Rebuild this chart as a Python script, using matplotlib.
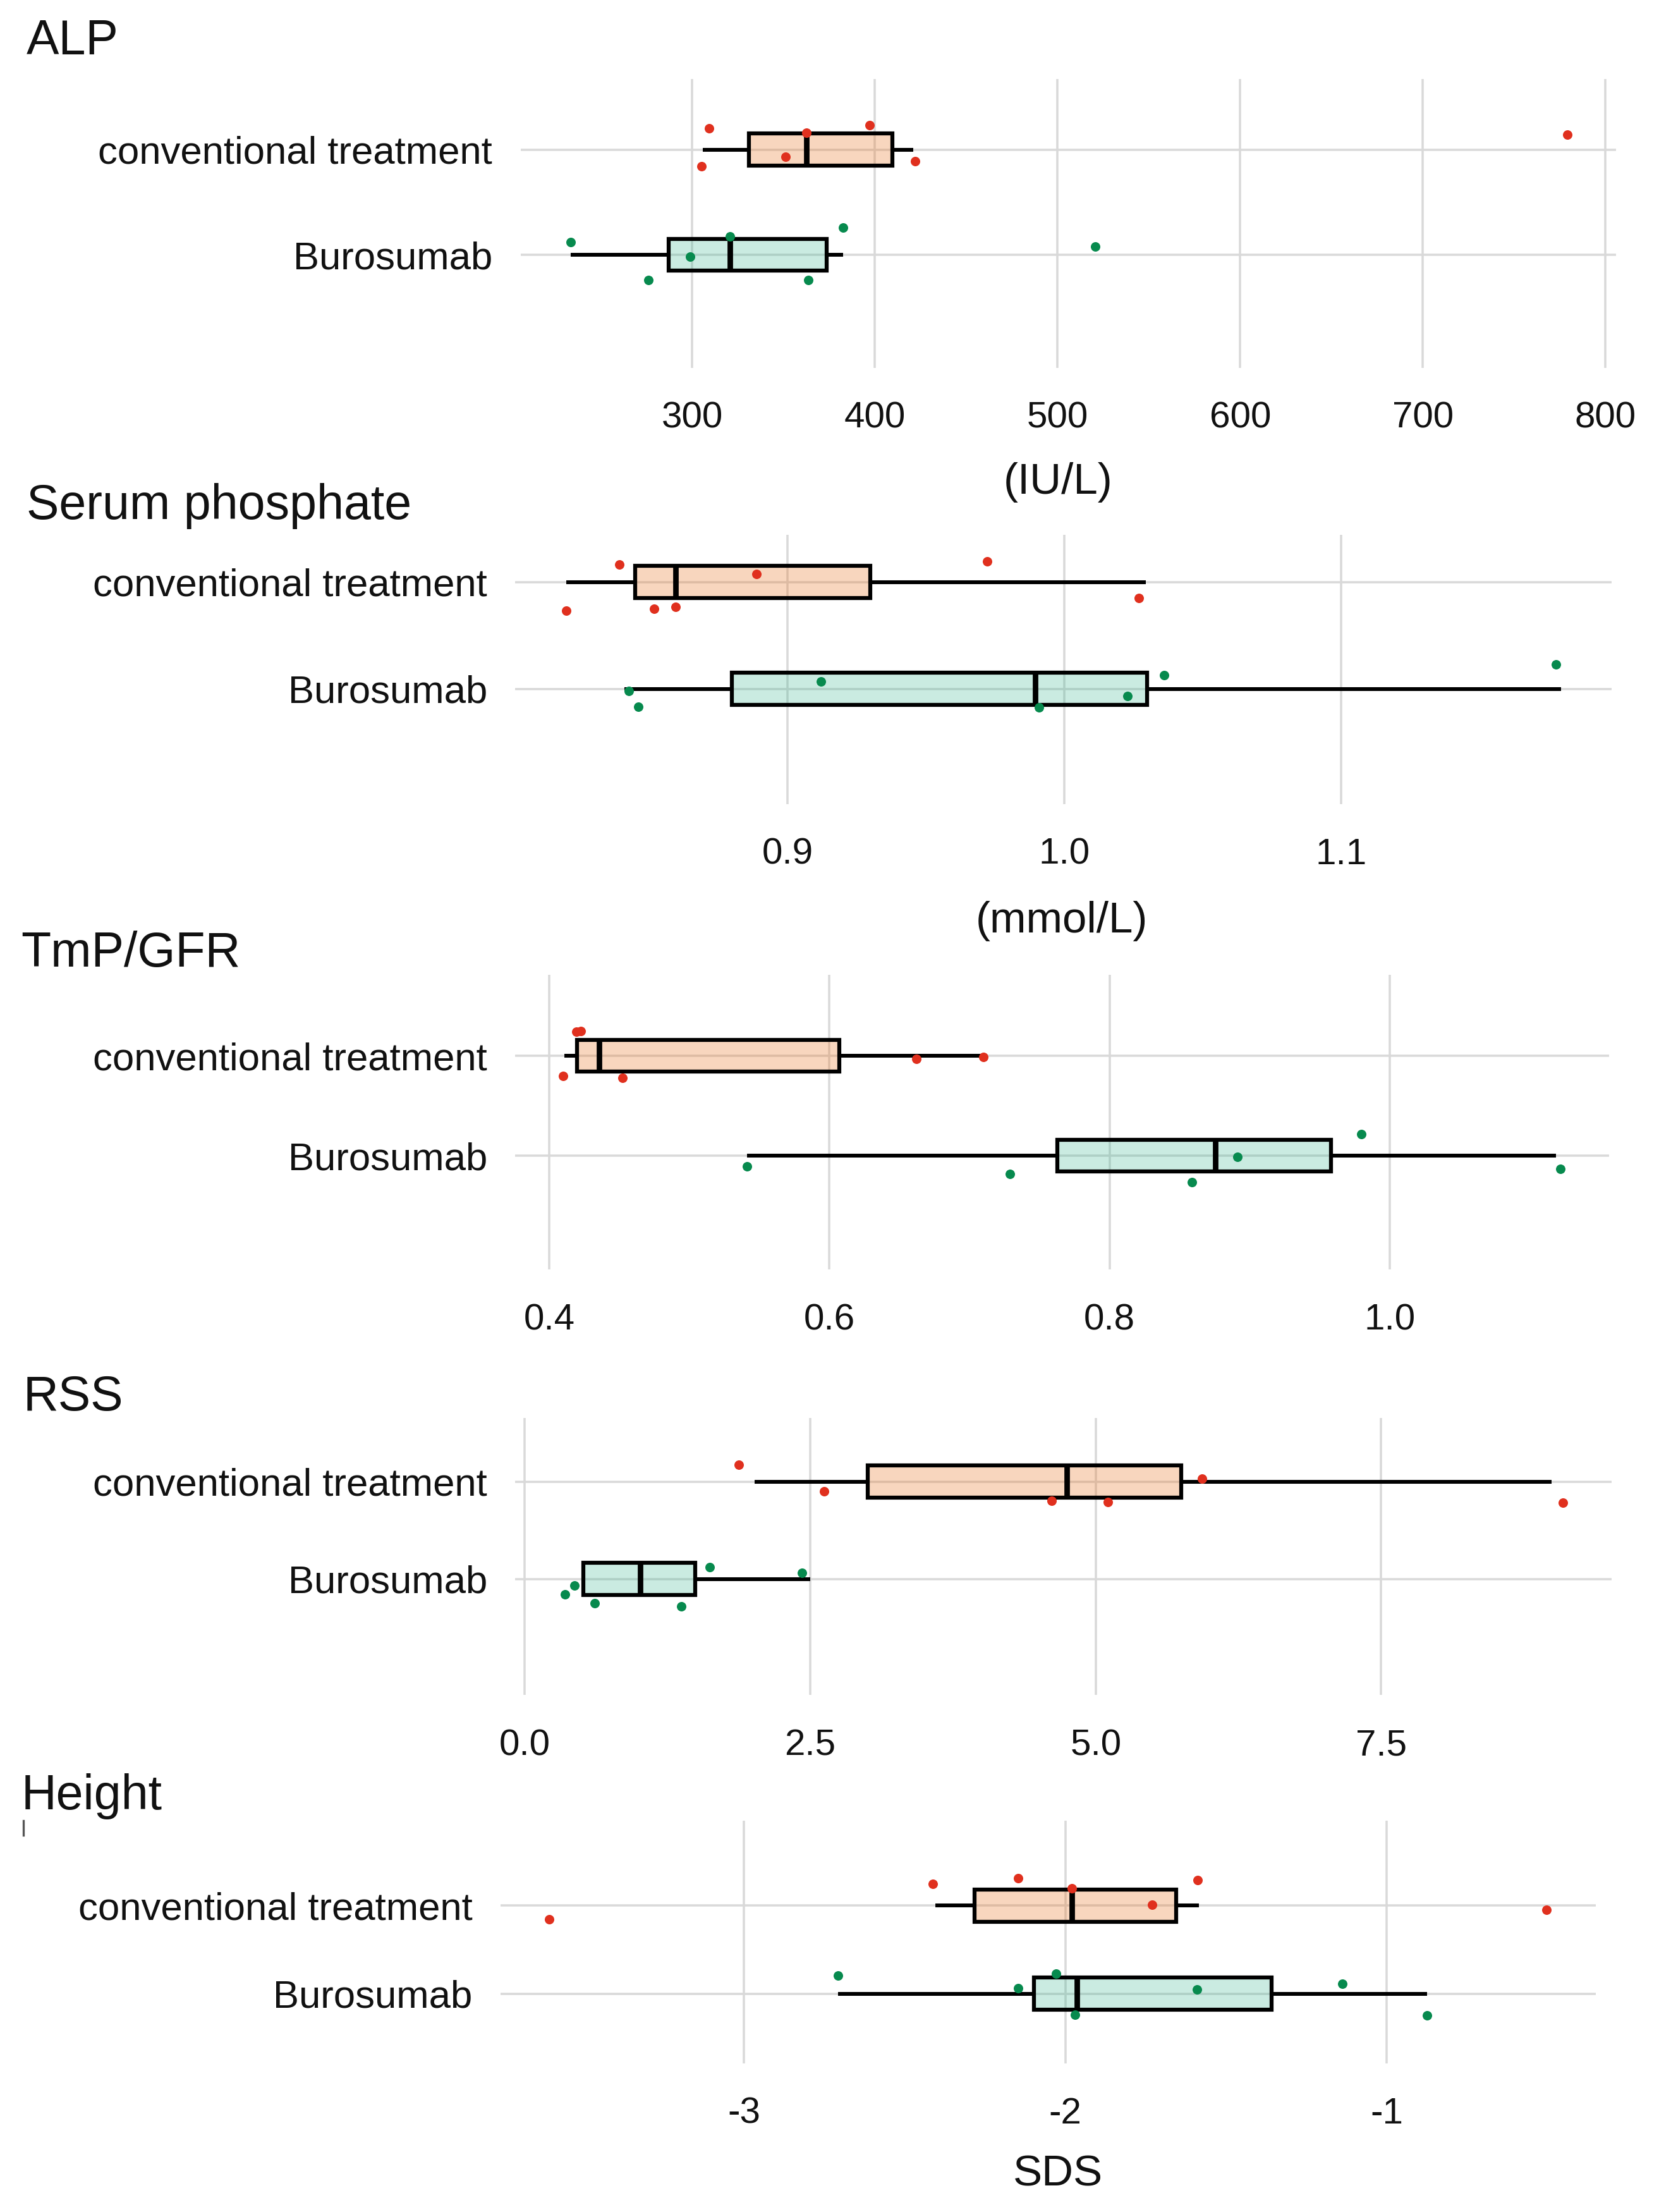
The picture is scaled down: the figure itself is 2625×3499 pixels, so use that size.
import matplotlib
matplotlib.use('Agg')
import matplotlib.pyplot as plt
from matplotlib.lines import Line2D

plt.rcParams['font.family'] = ['Liberation Sans', 'DejaVu Sans']

groups = ['Burosumab', 'conventional treatment']   # bottom row, top row

# box stats: whisker low, Q1, median, Q3, whisker high
# point values and their vertical jitter (in category units)

# ALP (IU/L)
alp_conv_box = [306.0, 331.0, 362.5, 409.5, 421.0]
alp_buro_box = [233.4, 287.3, 320.9, 373.6, 382.8]
alp_conv = [309.3, 397.3, 362.6, 351.0, 305.2, 422.2, 779.1]
alp_conv_jit = [0.20, 0.23, 0.16, -0.07, -0.16, -0.11, 0.14]
alp_buro = [233.4, 298.8, 276.2, 320.9, 363.7, 382.8, 520.7]
alp_buro_jit = [0.12, -0.02, -0.24, 0.175, -0.24, 0.26, 0.08]

# Serum phosphate (mmol/L)
pho_conv_box = [0.820, 0.845, 0.8595, 0.930, 1.0296]
pho_buro_box = [0.841, 0.880, 0.9895, 1.030, 1.1795]
pho_conv = [0.8392, 0.8201, 0.8518, 0.8595, 0.8889, 0.9723, 1.0270]
pho_conv_jit = [0.167, -0.27, -0.25, -0.235, 0.077, 0.195, -0.15]
pho_buro = [0.8426, 0.8461, 0.9122, 0.9910, 1.0228, 1.0361, 1.1776]
pho_buro_jit = [-0.02, -0.17, 0.07, -0.175, -0.07, 0.127, 0.227]

# TmP/GFR
tmp_conv_box = [0.4106, 0.4197, 0.4355, 0.6071, 0.7100]
tmp_buro_box = [0.5413, 0.7628, 0.8754, 0.9578, 1.1188]
tmp_conv = [0.4195, 0.4225, 0.4098, 0.4522, 0.6623, 0.7099]
tmp_conv_jit = [0.24, 0.25, -0.20, -0.22, -0.03, -0.015]
tmp_buro = [0.5413, 0.7288, 0.8588, 0.8913, 0.9797, 1.1218]
tmp_buro_jit = [-0.107, -0.186, -0.263, -0.01, 0.218, -0.13]

# RSS
rss_conv_box = [2.011, 3.003, 4.745, 5.746, 8.99]
rss_buro_box = [0.51, 0.51, 1.01, 1.492, 2.50]
rss_conv = [1.872, 2.623, 4.615, 5.107, 5.932, 9.092]
rss_conv_jit = [0.17, -0.10, -0.20, -0.21, 0.03, -0.22]
rss_buro = [1.622, 2.428, 0.436, 0.352, 0.612, 1.372]
rss_buro_jit = [0.12, 0.06, -0.065, -0.16, -0.25, -0.28]

# Height (SDS)
hgt_conv_box = [-2.404, -2.282, -1.980, -1.656, -1.585]
hgt_buro_box = [-2.707, -2.097, -1.964, -1.359, -0.875]
hgt_conv = [-3.606, -2.413, -2.148, -1.980, -1.730, -1.588, -0.5026]
hgt_conv_jit = [-0.157, 0.244, 0.31, 0.195, 0.01, 0.29, -0.045]
hgt_buro = [-2.707, -2.148, -2.030, -1.970, -1.590, -1.138, -0.875]
hgt_buro_jit = [0.207, 0.058, 0.224, -0.24, 0.048, 0.112, -0.247]

# tick values / labels
alp_ticks = [300, 400, 500, 600, 700, 800]
pho_ticks = [0.9, 1.0, 1.1]
tmp_ticks = [0.4, 0.6, 0.8, 1.0]
rss_ticks = [0.0, 2.5, 5.0, 7.5]
hgt_ticks = [-3, -2, -1]

# colours
conv_fill = (0.91, 0.47, 0.16, 0.30)
buro_fill = (0.18, 0.70, 0.54, 0.25)
conv_pt = '#E0301E'
buro_pt = '#078A4E'
grid_col = '#D9D9D9'

# layout in reference pixels (1176 x 1568 view of the picture)
REF_W, REF_H = 1176.0, 1568.0
panels = [
    dict(title='ALP', tx=18.8, ty=38.4, l=369.0, r=1145.6, t=56.0, b=260.6,
         rc=106.0, rb=180.6, xlim=(206.1, 805.8), ticks=alp_ticks,
         labels=[str(v) for v in alp_ticks], xlabel='(IU/L)', xlx=750.0, xly=341.8,
         cbox=alp_conv_box, bbox=alp_buro_box, c=alp_conv, cj=alp_conv_jit,
         bv=alp_buro, bj=alp_buro_jit),
    dict(title='Serum phosphate', tx=18.8, ty=367.8, l=365.3, r=1142.6, t=379.0, b=569.8,
         rc=412.6, rb=488.3, xlim=(0.8017, 1.1979), ticks=pho_ticks,
         labels=['%.1f' % v for v in pho_ticks], xlabel='(mmol/L)', xlx=752.5, xly=653.0,
         cbox=pho_conv_box, bbox=pho_buro_box, c=pho_conv, cj=pho_conv_jit,
         bv=pho_buro, bj=pho_buro_jit),
    dict(title='TmP/GFR', tx=15.0, ty=685.4, l=365.3, r=1140.5, t=690.8, b=899.8,
         rc=748.4, rb=819.2, xlim=(0.3758, 1.1564), ticks=tmp_ticks,
         labels=['%.1f' % v for v in tmp_ticks], xlabel=None, xlx=None, xly=None,
         cbox=tmp_conv_box, bbox=tmp_buro_box, c=tmp_conv, cj=tmp_conv_jit,
         bv=tmp_buro, bj=tmp_buro_jit),
    dict(title='RSS', tx=16.5, ty=999.7, l=365.3, r=1142.6, t=1005.3, b=1201.3,
         rc=1050.2, rb=1119.2, xlim=(-0.083, 9.52), ticks=rss_ticks,
         labels=['%.1f' % v for v in rss_ticks], xlabel=None, xlx=None, xly=None,
         cbox=rss_conv_box, bbox=rss_buro_box, c=rss_conv, cj=rss_conv_jit,
         bv=rss_buro, bj=rss_buro_jit),
    dict(title='Height', tx=15.0, ty=1282.7, l=354.9, r=1131.4, t=1290.7, b=1462.5,
         rc=1350.8, rb=1413.2, xlim=(-3.758, -0.348), ticks=hgt_ticks,
         labels=[str(v) for v in hgt_ticks], xlabel='SDS', xlx=750.0, xly=1541.5,
         cbox=hgt_conv_box, bbox=hgt_buro_box, c=hgt_conv, cj=hgt_conv_jit,
         bv=hgt_buro, bj=hgt_buro_jit),
]

BOX_PX = 22.8   # box thickness in reference pixels

fig = plt.figure(figsize=(2625 / 300, 3499 / 300), dpi=300)

for p in panels:
    ax = fig.add_axes([p['l'] / REF_W, 1 - p['b'] / REF_H,
                       (p['r'] - p['l']) / REF_W, (p['b'] - p['t']) / REF_H])
    unit = p['rb'] - p['rc']
    ylo = 1 - (p['b'] - p['rb']) / unit
    yhi = 2 + (p['rc'] - p['t']) / unit
    width = BOX_PX / unit

    stats = []
    for b in (p['bbox'], p['cbox']):
        stats.append(dict(whislo=b[0], q1=b[1], med=b[2], q3=b[3], whishi=b[4], fliers=[]))
    bp = ax.bxp(stats, positions=[1, 2], widths=width, orientation='horizontal',
                patch_artist=True, showcaps=False, showfliers=False,
                boxprops=dict(edgecolor='black', linewidth=1.5),
                whiskerprops=dict(color='black', linewidth=1.45, solid_capstyle='butt'),
                medianprops=dict(color='black', linewidth=2.1, solid_capstyle='butt'))
    bp['boxes'][0].set_facecolor(buro_fill)
    bp['boxes'][1].set_facecolor(conv_fill)
    for art in bp['boxes'] + bp['whiskers'] + bp['medians']:
        art.set_zorder(2)

    ax.scatter(p['c'], [2 + j for j in p['cj']], s=13, color=conv_pt, lw=0, zorder=3)
    ax.scatter(p['bv'], [1 + j for j in p['bj']], s=13, color=buro_pt, lw=0, zorder=3)

    ax.set_xlim(*p['xlim'])
    ax.set_ylim(ylo, yhi)
    ax.set_xticks(p['ticks'])
    ax.set_xticklabels(p['labels'])
    ax.set_yticks([1, 2])
    ax.set_yticklabels(groups)
    ax.tick_params(axis='x', length=0, pad=12.8, labelsize=14, labelcolor='#111111')
    ax.tick_params(axis='y', length=0, pad=10.7, labelsize=14.8, labelcolor='#111111')
    ax.grid(True, color=grid_col, linewidth=0.85)
    ax.set_axisbelow(True)
    for s in ax.spines.values():
        s.set_visible(False)

    if p['xlabel']:
        ax.set_xlabel(p['xlabel'], fontsize=16.6, va='center', color='#111111')
        ax.xaxis.set_label_coords((p['xlx'] - p['l']) / (p['r'] - p['l']),
                                  -(p['xly'] - p['b']) / (p['b'] - p['t']))

    fig.text(p['tx'] / REF_W, 1 - p['ty'] / REF_H, p['title'], fontsize=18.5,
             va='baseline', ha='left', color='#111111')

# small stray mark under the Height title
fig.add_artist(Line2D([16.5 / REF_W, 16.5 / REF_W],
                      [1 - 1290.7 / REF_H, 1 - 1300.8 / REF_H],
                      color='#555555', linewidth=0.8))

fig.savefig('out.png', dpi=300)
